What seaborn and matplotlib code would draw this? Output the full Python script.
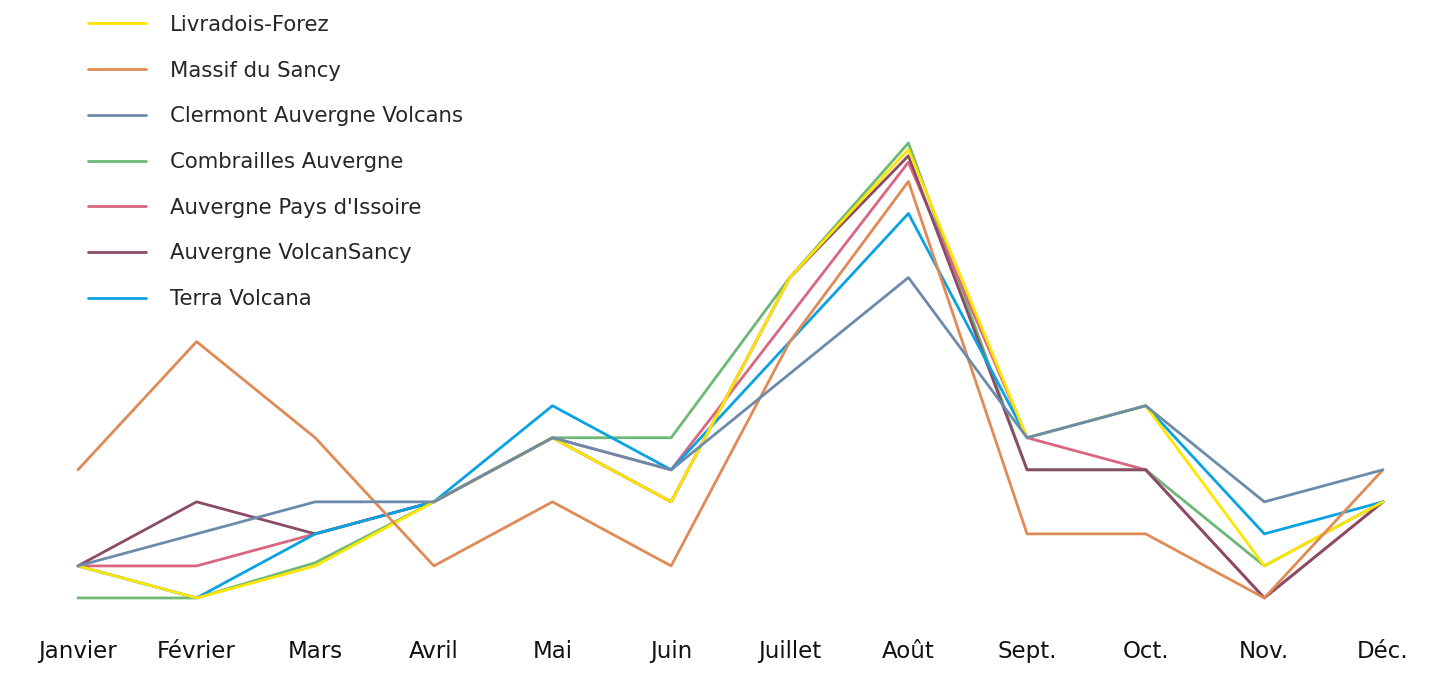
import pandas as pd
import seaborn as sns
import matplotlib.pyplot as plt

# values (no y scale shown, units are arbitrary)
mois = ["Janvier", "Février", "Mars", "Avril", "Mai", "Juin", "Juillet",
        "Août", "Sept.", "Oct.", "Nov.", "Déc."]

livradois = [1, 0, 1, 3, 5, 3, 10, 14.0, 5, 6, 1, 3]
sancy = [4, 8, 5, 1, 3, 1, 8, 13.0, 2, 2, 0, 4]
clermont = [1, 2, 3, 3, 5, 4, 7, 10.0, 5, 6, 3, 4]
combrailles = [0, 0, 1.1, 3, 5, 5, 10, 14.2, 4, 4, 1, 3]
issoire = [1, 1, 2, 3, 5, 4, 8.8, 13.6, 5, 4, 0, 3]
volcansancy = [1, 3, 2, 3, 5, 3, 10, 13.8, 4, 4, 0, 3]
terra = [1, 0, 2, 3, 6, 4, 8, 12.0, 5, 6, 2, 3]

series = {
    "Livradois-Forez": livradois,
    "Massif du Sancy": sancy,
    "Clermont Auvergne Volcans": clermont,
    "Combrailles Auvergne": combrailles,
    "Auvergne Pays d'Issoire": issoire,
    "Auvergne VolcanSancy": volcansancy,
    "Terra Volcana": terra,
}
couleurs = ["#FFE500", "#E08A55", "#6C8BAB", "#6CB874", "#D9677F", "#8A4B68", "#0AA2E2"]
# stacking order seen in the picture (higher = on top)
ordre = [2.5, 2.6, 2.7, 2.0, 2.1, 2.2, 2.3]

df = pd.DataFrame(series)
df["idx"] = range(len(mois))
tidy = df.melt(id_vars="idx", var_name="Territoire", value_name="Valeur")

sns.set_style("white")
plt.rcParams["font.family"] = ["DejaVu Sans"]

fig = plt.figure(figsize=(14.45, 6.75), dpi=100)
ax = fig.add_axes([0.0293, 0.0904, 0.9524, 0.7215])

sns.lineplot(data=tidy, x="idx", y="Valeur", hue="Territoire",
             palette=couleurs, linewidth=2.0, sort=False, ax=ax)
for line, z in zip(ax.lines, ordre):
    line.set_zorder(z)

ax.set_xlim(-0.3, 11.3)
ax.set_ylim(-0.5, 14.7)
ax.set_xticks(range(len(mois)))
ax.set_xticklabels(mois, fontsize=16.5, color="#111111")
ax.tick_params(axis="x", length=0, pad=19)
ax.set_yticks([])
ax.set_xlabel("")
ax.set_ylabel("")
sns.despine(ax=ax, left=True, bottom=True)

handles, labels = ax.get_legend_handles_labels()
ax.legend(handles, labels, loc="upper left", bbox_to_anchor=(88 / 1445, 0.978),
          bbox_transform=fig.transFigure, frameon=False, fontsize=15.3,
          handlelength=2.75, handletextpad=1.1, labelspacing=1.21,
          borderpad=0, borderaxespad=0)

plt.savefig("out.png", dpi=100)
